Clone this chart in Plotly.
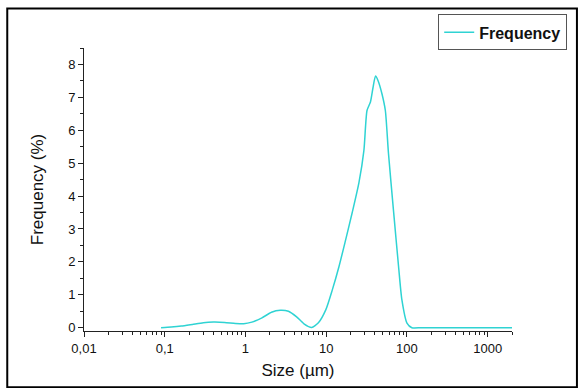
import plotly.graph_objects as go

size_um = [0.09, 0.12, 0.16, 0.22, 0.3, 0.4, 0.55, 0.75, 0.95, 1.2, 1.6, 2.1, 2.7, 3.4, 4.3, 5.3,
           6.6, 8, 9.9, 11.9, 14.4, 17.4, 21, 25.4, 29.3, 32, 35.3, 38, 40.8, 44, 49, 54, 59, 68,
           78.7, 86.5, 100, 115, 150, 300, 600, 1000, 2000]
frequency = [0, 0.02, 0.05, 0.1, 0.15, 0.17, 0.16, 0.13, 0.12, 0.17, 0.3, 0.47, 0.53, 0.5, 0.33, 0.12,
             0.01, 0.15, 0.55, 1.15, 1.86, 2.67, 3.5, 4.4, 5.39, 6.6, 6.86, 7.3, 7.65, 7.5, 7.11, 6.6, 5.3, 3.58,
             1.86, 0.85, 0.14, 0, 0, 0, 0, 0, 0]

x_tickvals = [0.01, 0.1, 1, 10, 100, 1000]
x_ticktext = ["0,01", "0,1", "1", "10", "100", "1000"]
y_tickvals = [0, 1, 2, 3, 4, 5, 6, 7, 8]

minor_x = [m * 10 ** k for k in range(-2, 4) for m in range(2, 10) if m * 10 ** k <= 2000]

line_color = "#2fd3d3"
W, H = 579, 388
ML, MR, MT, MB = 84, 60, 48, 53
PW, PH = W - ML - MR, H - MT - MB


def px_x(x):
    return (x - ML) / PW


def px_y(y):
    return (H - MB - y) / PH


fig = go.Figure()
fig.add_trace(go.Scatter(
    x=size_um, y=frequency, mode="lines", name="Frequency",
    line=dict(color=line_color, width=1.5, shape="spline", smoothing=0.6),
))

fnt = "Arial, Liberation Sans, sans-serif"
axis_font = dict(family=fnt, size=13, color="#111")
title_font = dict(family=fnt, size=17, color="#111")
fig.update_layout(
    width=W, height=H,
    margin=dict(l=ML, r=MR, t=MT, b=MB),
    paper_bgcolor="white", plot_bgcolor="white",
    showlegend=True,
    legend=dict(
        x=px_x(444), y=px_y(14), xanchor="left", yanchor="top",
        font=dict(family=fnt, size=16, color="#111", weight="bold"),
        bordercolor="#555", borderwidth=1, bgcolor="white",
        itemwidth=30, tracegroupgap=0,
    ),
    xaxis=dict(
        type="log", range=[-2, 3.301],
        tickvals=x_tickvals, ticktext=x_ticktext,
        ticks="outside", ticklen=5, tickwidth=1, tickcolor="#222",
        showline=True, linecolor="#222", linewidth=1,
        showgrid=False, zeroline=False,
        tickfont=axis_font,
        minor=dict(tickvals=minor_x, ticks="outside", ticklen=3, tickcolor="#222", showgrid=False),
        title=dict(text="Size (µm)", font=title_font, standoff=9),
    ),
    yaxis=dict(
        range=[-0.1, 8.5],
        tickvals=y_tickvals,
        ticks="outside", ticklen=5, tickwidth=1, tickcolor="#222",
        showline=True, linecolor="#222", linewidth=1,
        showgrid=False, zeroline=False,
        tickfont=axis_font,
        minor=dict(dtick=0.5, ticks="outside", ticklen=3, tickcolor="#222", showgrid=False),
        title=dict(text="Frequency (%)", font=title_font, standoff=20),
    ),
)
# outer frame
fig.add_shape(type="rect", xref="paper", yref="paper",
              x0=px_x(6), x1=px_x(585), y0=px_y(392), y1=px_y(8),
              line=dict(color="black", width=2), fillcolor="rgba(0,0,0,0)", layer="above")

fig.write_html("out.html", config={"displayModeBar": False},
               post_script="document.body.style.margin='0';document.body.style.overflow='hidden';")
